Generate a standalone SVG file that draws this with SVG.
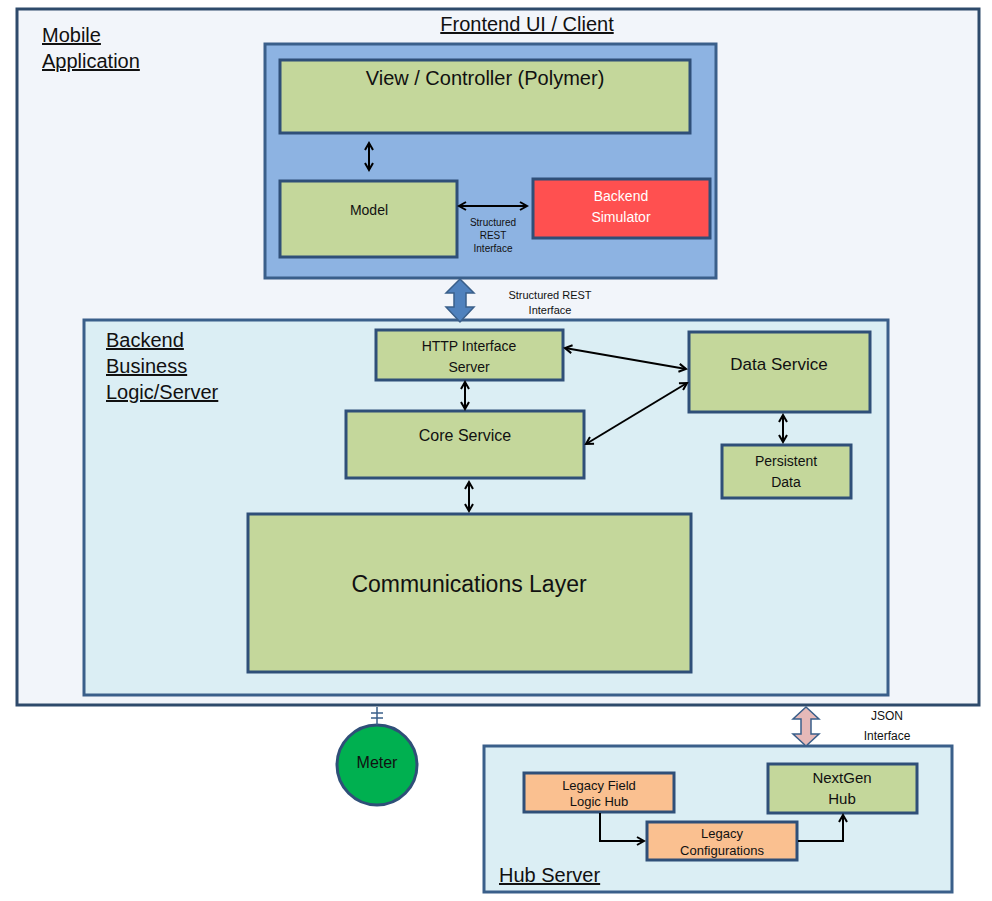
<svg xmlns="http://www.w3.org/2000/svg" width="992" height="901" viewBox="0 0 992 901">
<style>
text{font-family:"Liberation Sans",Arial,sans-serif;fill:#111}
.g{fill:#c4d79b;stroke:#2f4f78;stroke-width:3}
.o{fill:#fac090;stroke:#2f4f78;stroke-width:3}
.c{fill:none;stroke:#000;stroke-width:2}
.t{font-size:20px;text-decoration:underline}
</style>
<defs>
<marker id="a" markerWidth="10" markerHeight="10" refX="8" refY="5" orient="auto-start-reverse" markerUnits="userSpaceOnUse"><path d="M1,1 L8,5 L1,9" fill="none" stroke="#000" stroke-width="2"/></marker>
</defs>
<g id="mobile"><rect x="17" y="9" width="962" height="696" fill="#f2f5fa" stroke="#2e4a6b" stroke-width="3"/>
<text x="42" y="42" class="t">Mobile</text><text x="42" y="68" class="t">Application</text></g>
<g id="frontend"><rect x="265" y="44" width="451" height="234" fill="#8db3e2" stroke="#3a5f8a" stroke-width="3"/>
<text x="527" y="31" class="t" text-anchor="middle">Frontend UI / Client</text></g>
<g id="view"><rect x="280" y="60" width="410" height="73" class="g"/><text x="485" y="85" font-size="20" text-anchor="middle">View / Controller (Polymer)</text></g>
<g id="model"><rect x="280" y="181" width="177" height="76" class="g"/><text x="369" y="215" font-size="14" text-anchor="middle">Model</text></g>
<g id="sim"><rect x="533" y="179" width="177" height="59" fill="#ff5050" stroke="#2f4f78" stroke-width="3"/><text x="621" y="201" font-size="14" text-anchor="middle" style="fill:#fff">Backend</text><text x="621" y="222" font-size="14" text-anchor="middle" style="fill:#fff">Simulator</text></g>
<g id="backend"><rect x="84" y="320" width="804" height="375" fill="#dbeef4" stroke="#3a5f8a" stroke-width="3"/>
<text x="106" y="347" class="t">Backend</text><text x="106" y="373" class="t">Business</text><text x="106" y="399" class="t">Logic/Server</text></g>
<g id="http"><rect x="376" y="330" width="187" height="50" class="g"/><text x="469" y="351" font-size="14" text-anchor="middle">HTTP Interface</text><text x="469" y="372" font-size="14" text-anchor="middle">Server</text></g>
<g id="data"><rect x="689" y="332" width="181" height="80" class="g"/><text x="779" y="370" font-size="17" text-anchor="middle">Data Service</text></g>
<g id="core"><rect x="346" y="411" width="238" height="67" class="g"/><text x="465" y="441" font-size="16" text-anchor="middle">Core Service</text></g>
<g id="persist"><rect x="722" y="445" width="129" height="53" class="g"/><text x="786" y="466" font-size="14" text-anchor="middle">Persistent</text><text x="786" y="487" font-size="14" text-anchor="middle">Data</text></g>
<g id="comm"><rect x="248" y="514" width="443" height="158" class="g"/><text x="469" y="592" font-size="23" text-anchor="middle">Communications Layer</text></g>
<g id="hub"><rect x="484" y="746" width="468" height="146" fill="#dbeef4" stroke="#3a5f8a" stroke-width="3"/><text x="499" y="882" font-size="20" text-decoration="underline">Hub Server</text></g>
<g id="legacyfield"><rect x="524" y="773" width="150" height="39" class="o"/><text x="599" y="790" font-size="13" text-anchor="middle">Legacy Field</text><text x="599" y="806" font-size="13" text-anchor="middle">Logic Hub</text></g>
<g id="legacycfg"><rect x="647" y="822" width="150" height="38" class="o"/><text x="722" y="838" font-size="13" text-anchor="middle">Legacy</text><text x="722" y="855" font-size="13" text-anchor="middle">Configurations</text></g>
<g id="nextgen"><rect x="768" y="764" width="149" height="49" class="g"/><text x="842" y="783" font-size="15" text-anchor="middle">NextGen</text><text x="842" y="804" font-size="15" text-anchor="middle">Hub</text></g>
<g id="meter"><circle cx="377" cy="765" r="40" fill="#00b050" stroke="#2f4f78" stroke-width="3"/><text x="377" y="768" font-size="16" text-anchor="middle">Meter</text></g>
<g id="connectors">
<line x1="369" y1="143" x2="369" y2="170" class="c" marker-start="url(#a)" marker-end="url(#a)"/>
<line x1="459" y1="206" x2="527" y2="206" class="c" marker-start="url(#a)" marker-end="url(#a)"/>
<text x="493" y="226" font-size="10" text-anchor="middle">Structured</text><text x="493" y="239" font-size="10" text-anchor="middle">REST</text><text x="493" y="252" font-size="10" text-anchor="middle">Interface</text>
<path d="M460,279 L474,293 L466,293 L466,307 L474,307 L460,322 L446,307 L454,307 L454,293 L446,293 Z" fill="#4f81bd" stroke="#3a5f8a" stroke-width="1.5"/>
<text x="550" y="299" font-size="11" text-anchor="middle">Structured REST</text><text x="550" y="314" font-size="11" text-anchor="middle">Interface</text>
<line x1="565" y1="348" x2="686" y2="369" class="c" marker-start="url(#a)" marker-end="url(#a)"/>
<line x1="586" y1="444" x2="687" y2="383" class="c" marker-start="url(#a)" marker-end="url(#a)"/>
<line x1="465" y1="382" x2="465" y2="409" class="c" marker-start="url(#a)" marker-end="url(#a)"/>
<line x1="469" y1="482" x2="469" y2="511" class="c" marker-start="url(#a)" marker-end="url(#a)"/>
<line x1="783" y1="415" x2="783" y2="442" class="c" marker-start="url(#a)" marker-end="url(#a)"/>
<path d="M806,707 L819,719 L811,719 L811,734 L819,734 L806,746 L793,734 L801,734 L801,719 L793,719 Z" fill="#e6b9b8" stroke="#3a5f8a" stroke-width="1.5"/>
<text x="887" y="720" font-size="12" text-anchor="middle">JSON</text><text x="887" y="740" font-size="12" text-anchor="middle">Interface</text>
<line x1="377" y1="707" x2="377" y2="725" stroke="#3a5f8a" stroke-width="1.5"/>
<line x1="371" y1="713" x2="383" y2="713" stroke="#3a5f8a" stroke-width="1.5"/><line x1="371" y1="718" x2="383" y2="718" stroke="#3a5f8a" stroke-width="1.5"/>
<path d="M600,813 L600,841 L644,841" class="c" marker-end="url(#a)"/>
<path d="M798,841 L843,841 L843,815" class="c" marker-end="url(#a)"/>
</g>
</svg>
